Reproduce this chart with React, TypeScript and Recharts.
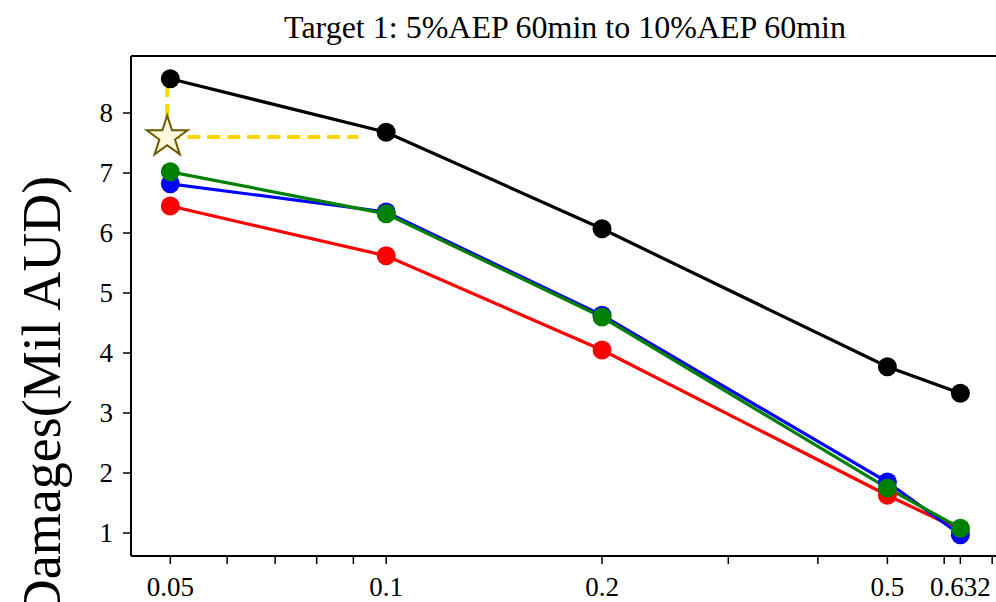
import { ComposedChart, Line, XAxis, YAxis, ReferenceLine, ReferenceDot } from 'recharts';

const aep = [0.05, 0.1, 0.2, 0.5, 0.632];
const blackDamages = [8.57, 7.68, 6.07, 3.77, 3.33];
const blueDamages = [6.82, 6.35, 4.63, 1.85, 0.97];
const greenDamages = [7.02, 6.32, 4.6, 1.75, 1.08];
const redDamages = [6.45, 5.62, 4.05, 1.63, 1.05];

const majorTicks = [0.05, 0.1, 0.2, 0.5, 0.632];
const minorTicks = [0.06, 0.07, 0.08, 0.09, 0.3, 0.4, 0.6, 0.7];
const yTicks = [1, 2, 3, 4, 5, 6, 7, 8];

// target point (star) and its guide lines
const targetAep = 0.0495;
const targetDamage = 7.6;
const guideEndAep = 0.0914;

const xDomain = [0.04407, 0.7178];
const yDomain = [0.617, 8.95];

const data = aep.map((a, i) => ({
  aep: a,
  black: blackDamages[i],
  blue: blueDamages[i],
  green: greenDamages[i],
  red: redDamages[i],
}));

const FONT = '"Liberation Serif", "Times New Roman", serif';

const XTick = (props: any) => {
  const { x, y, payload } = props;
  if (!majorTicks.includes(payload.value)) return null;
  return (
    <text x={x} y={y + 30} textAnchor="middle" fontFamily={FONT} fontSize={27} fill="#000">
      {payload.value}
    </text>
  );
};

const YTick = (props: any) => {
  const { x, y, payload } = props;
  return (
    <text x={x - 8} y={y} dy="0.35em" textAnchor="end" fontFamily={FONT} fontSize={27} fill="#000">
      {payload.value}
    </text>
  );
};

const Star = (props: any) => {
  const { cx, cy } = props;
  const R = 21.5;
  const r = R * 0.382;
  const pts: string[] = [];
  for (let k = 0; k < 10; k++) {
    const rad = k % 2 === 0 ? R : r;
    const ang = -Math.PI / 2 + (k * Math.PI) / 5;
    pts.push(`${cx + rad * Math.cos(ang)},${cy + rad * Math.sin(ang)}`);
  }
  return <polygon points={pts.join(' ')} fill="#FFF8DC" stroke="#6B5A00" strokeWidth={2} />;
};

const dot = (c: string) => ({ r: 9.5, fill: c, stroke: c, strokeWidth: 0 });

export default function App() {
  return (
    <div style={{ position: 'absolute', left: 0, top: 0, width: 996, height: 602, overflow: 'hidden', background: '#fff' }}>
      <ComposedChart
        width={1010}
        height={602}
        data={data}
        margin={{ top: 56, right: 10, left: 71, bottom: 0 }}
      >
        <XAxis
          dataKey="aep"
          type="number"
          scale="log"
          domain={xDomain}
          allowDataOverflow
          ticks={[...majorTicks, ...minorTicks].sort((a, b) => a - b)}
          interval={0}
          height={46}
          tickSize={8}
          tick={<XTick />}
          axisLine={{ stroke: '#000', strokeWidth: 2 }}
          tickLine={{ stroke: '#000', strokeWidth: 1.5 }}
        />
        <YAxis
          type="number"
          domain={yDomain}
          allowDataOverflow
          ticks={yTicks}
          interval={0}
          width={60}
          tickSize={8}
          tick={<YTick />}
          axisLine={{ stroke: '#000', strokeWidth: 2 }}
          tickLine={{ stroke: '#000', strokeWidth: 1.5 }}
        />
        <ReferenceLine y={yDomain[1]} stroke="#000" strokeWidth={2} />
        <ReferenceLine x={xDomain[1]} stroke="#000" strokeWidth={2} />
        <ReferenceLine
          segment={[{ x: targetAep, y: targetDamage }, { x: targetAep, y: blackDamages[0] }]}
          stroke="#FFD700"
          strokeWidth={4}
          strokeDasharray="13 7"
        />
        <ReferenceLine
          segment={[{ x: targetAep, y: targetDamage }, { x: guideEndAep, y: targetDamage }]}
          stroke="#FFD700"
          strokeWidth={4}
          strokeDasharray="13 7"
        />
        <Line dataKey="black" stroke="#000" strokeWidth={3.2} dot={dot('#000')} isAnimationActive={false} />
        <Line dataKey="red" stroke="#ff0000" strokeWidth={3.2} dot={dot('#ff0000')} isAnimationActive={false} />
        <Line dataKey="blue" stroke="#0000ff" strokeWidth={3.2} dot={dot('#0000ff')} isAnimationActive={false} />
        <Line dataKey="green" stroke="#008000" strokeWidth={3.2} dot={dot('#008000')} isAnimationActive={false} />
        <ReferenceDot x={targetAep} y={targetDamage} r={20} shape={<Star />} />
      </ComposedChart>
      <svg width={996} height={602} style={{ position: 'absolute', left: 0, top: 0, pointerEvents: 'none' }}>
        <text x={565} y={38} textAnchor="middle" fontFamily={FONT} fontSize={32} fill="#000">
          Target 1: 5%AEP 60min to 10%AEP 60min
        </text>
        <text
          x={0}
          y={0}
          transform="translate(60, 397) rotate(-90)"
          textAnchor="middle"
          fontFamily={FONT}
          fontSize={54}
          fill="#000"
        >
          Damages(Mil AUD)
        </text>
      </svg>
    </div>
  );
}
